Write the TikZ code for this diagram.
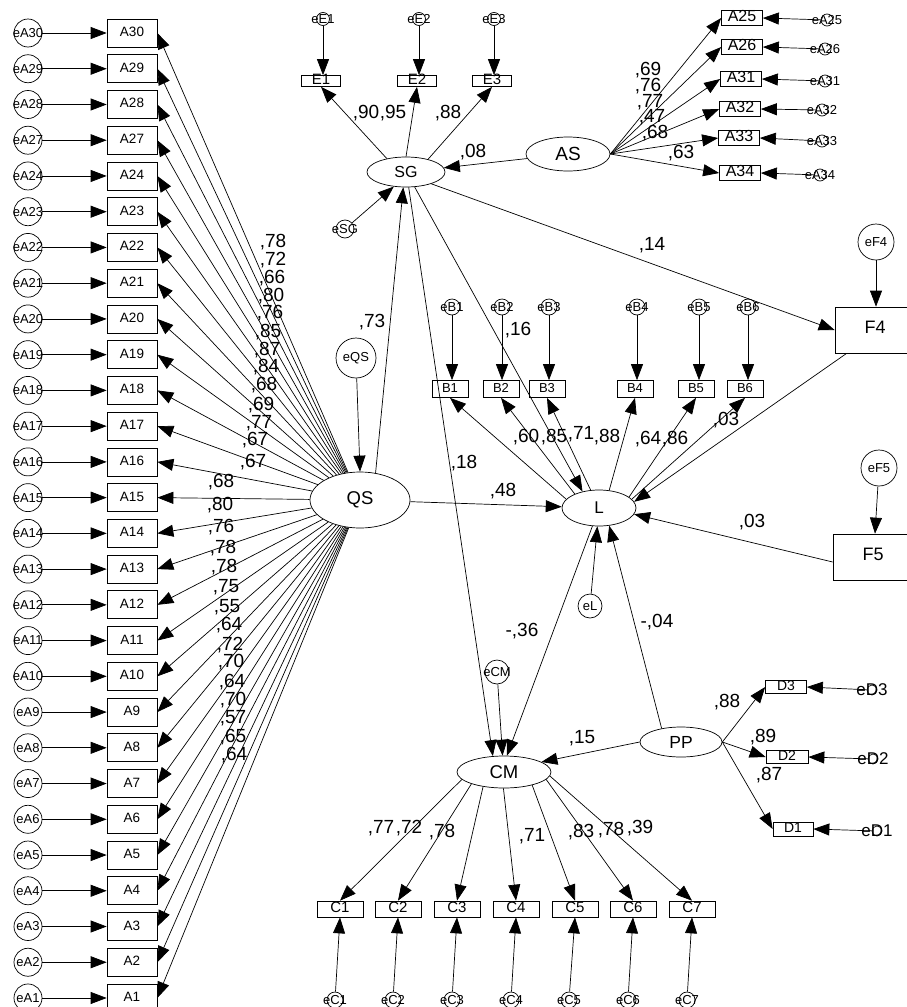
\documentclass[tikz,border=0pt]{standalone}
\usepackage{fontspec}
\setmainfont{Liberation Sans}
\usetikzlibrary{arrows.meta, shapes.geometric}

\begin{document}
\begin{tikzpicture}[
    x=1pt, y=-1pt,
    line width=0.7pt,
    arr/.style={-{Triangle[length=16pt, width=12pt]}},
    lat/.style={ellipse, draw, inner sep=0pt},
    obs/.style={rectangle, draw, inner sep=0pt, text height=0.7em, text depth=0pt},
    err/.style={circle, draw, inner sep=0pt, minimum size=#1},
    coef/.style={font=\fontsize{19}{19}\selectfont, inner sep=0pt},
    every label/.style={font=\fontsize{13}{13}\selectfont, inner sep=0pt},
]
\useasboundingbox (0,0) rectangle (907,1007);

% latent variables
\node[lat, minimum width=100pt, minimum height=56pt, font=\fontsize{18.5}{18.5}\selectfont] (QS) at (360,500) {QS};
\node[lat, minimum width=78pt, minimum height=30pt, font=\fontsize{16}{16}\selectfont] (SG) at (406,172) {SG};
\node[lat, minimum width=84pt, minimum height=34pt, font=\fontsize{19}{19}\selectfont] (AS) at (568,154) {AS};
\node[lat, minimum width=74pt, minimum height=36pt, font=\fontsize{17}{17}\selectfont] (L) at (599,508) {L};
\node[lat, minimum width=94pt, minimum height=32pt, font=\fontsize{18.5}{18.5}\selectfont] (CM) at (504,772) {CM};
\node[lat, minimum width=82pt, minimum height=30pt, font=\fontsize{17.5}{17.5}\selectfont] (PP) at (681,742) {PP};

% QS indicators (left column)
\foreach \n [count=\i from 0] in {30,29,28,27,24,23,22,21,20,19,18,17,16,15,14,13,12,11,10,9,8,7,6,5,4,3,2,1} {
  \node[obs, minimum width=50pt, minimum height=28pt, font=\fontsize{13.5}{13.5}\selectfont] (A\n) at (132, 33+35.74*\i) {A\n};
  \node[err=28pt, label={center:eA\n}] (eA\n) at (28, 33+35.74*\i) {};
  \draw[arr] (eA\n) -- (A\n);
  \draw[arr] (QS) -- (A\n.east);
}
\foreach \t/\x/\y [count=\i] in {78/273/242, 72/273/260, 66/272/278, 80/271/296, 76/270/313,
    85/268/332, 87/267/350, 84/266/367, 68/264/385, 69/261/405, 77/259/423, 67/255/440,
    67/253/462, 68/221/482, 80/220/505, 76/221/527, 78/223/548, 78/224/567, 75/226/587,
    55/227/607, 64/229/625, 72/230/645, 70/231/662, 64/232/682, 70/233/700, 57/233/718,
    65/233/737, 64/234/755}
  \node[coef] (lq\i) at (\x,\y) {,\t};

% SG indicators
\foreach \k/\x/\a in {1/321/145, 2/417/90, 3/492/30} {
  \node[obs, minimum width=39pt, minimum height=11pt, font=\fontsize{15}{15}\selectfont] (E\k) at (\x,81) {E\k};
  \node[err=13pt, label={center:eE\k}] (eE\k) at (\x+2,19) {};
  \draw[arr] (eE\k) -- (eE\k |- E\k.north);
  \draw[arr] (SG.\a) -- (E\k.south);
}
\node[coef] (le1) at (366,113) {,90};
\node[coef] (le2) at (393,113) {,95};
\node[coef] (le3) at (448,113) {,88};
\node[err=18pt, label={center:eSG}] (eSG) at (345,229) {};
\draw[arr] (eSG) -- (SG.230);

% AS indicators
\foreach \n/\x/\y/\ex/\ey in {25/742/18/827/20, 26/742/47/825/49, 31/741/79/825/81,
    32/740/109/822/110, 33/739/138/822/141, 34/740/173/820/175} {
  \node[obs, minimum width=41pt, minimum height=15pt, font=\fontsize{16}{16}\selectfont] (A\n) at (\x,\y) {A\n};
  \node[err=12pt, label={center:eA\n}] (eA\n) at (\ex,\ey) {};
  \draw[arr] (eA\n) -- (A\n.east);
  \draw[arr] (AS.east) -- (A\n.west);
}
\node[coef] (la1) at (648,70) {,69};
\node[coef] (la2) at (648,86) {,76};
\node[coef] (la3) at (650,102) {,77};
\node[coef] (la4) at (652,117) {,47};
\node[coef] (la5) at (655,133) {,68};
\node[coef] (la6) at (681,153) {,63};

% L indicators
\foreach \k/\x/\ex/\a in {1/450/452/165, 2/501/502/150, 3/547/549/115, 4/635/637/60, 5/696/699/20, 6/745/748/15} {
  \node[obs, minimum width=36pt, minimum height=17pt, font=\fontsize{13}{13}\selectfont] (B\k) at (\x,389) {B\k};
  \node[err=16pt, label={center:eB\k}] (eB\k) at (\ex,307) {};
  \draw[arr] (eB\k) -- (eB\k |- B\k.north);
  \draw[arr] (L.\a) -- (B\k.south);
}
\node[coef] (lb1) at (526,437) {,60};
\node[coef] (lb2) at (554,437) {,85};
\node[coef] (lb3) at (581,434) {,71};
\node[coef] (lb4) at (607,437) {,88};
\node[coef] (lb5) at (648,439) {,64};
\node[coef] (lb6) at (675,439) {,86};
\node[coef] (lb7) at (726,420) {,03};

% F4 and F5
\node[obs, minimum width=80pt, minimum height=46pt, font=\fontsize{18}{18}\selectfont] (F4) at (875,330) {F4};
\node[obs, minimum width=80pt, minimum height=46pt, font=\fontsize{18}{18}\selectfont] (F5) at (873,557) {F5};
\node[err=36pt, label={center:eF4}] (eF4) at (876,242) {};
\node[err=36pt, label={center:eF5}] (eF5) at (879,468) {};
\draw[arr] (eF4) -- (eF4 |- F4.north);
\draw[arr] (eF5) -- ([xshift=2pt]F5.north);

% CM indicators
\foreach \k/\x/\ex/\a in {1/340/335/190, 2/398/393/200, 3/457/452/215, 4/516/511/268, 5/575/569/335, 6/633/628/350, 7/692/687/355} {
  \node[obs, minimum width=46pt, minimum height=16pt, font=\fontsize{15}{15}\selectfont] (C\k) at (\x,909) {C\k};
  \node[err=16pt, label={center:eC\k}] (eC\k) at (\ex,1000) {};
  \draw[arr] (eC\k) -- (C\k.south);
  \draw[arr] (CM.\a) -- (C\k.north);
}
\node[coef] (lc1) at (381,828) {,77};
\node[coef] (lc2) at (409,828) {,72};
\node[coef] (lc3) at (442,832) {,78};
\node[coef] (lc4) at (532,836) {,71};
\node[coef] (lc5) at (581,832) {,83};
\node[coef] (lc6) at (611,830) {,78};
\node[coef] (lc7) at (640,828) {,39};

% PP indicators
\node[obs, minimum width=41pt, minimum height=13pt, font=\fontsize{14}{14}\selectfont] (D3) at (786,687) {D3};
\node[obs, minimum width=42pt, minimum height=13pt, font=\fontsize{14}{14}\selectfont] (D2) at (787,757) {D2};
\node[obs, minimum width=40pt, minimum height=14pt, font=\fontsize{14}{14}\selectfont] (D1) at (793,829) {D1};
\node[err=10pt, label={[font=\fontsize{17}{17}\selectfont]center:eD3}] (eD3) at (872,690) {};
\node[err=10pt, label={[font=\fontsize{17}{17}\selectfont]center:eD2}] (eD2) at (873,759) {};
\node[err=10pt, label={[font=\fontsize{17}{17}\selectfont]center:eD1}] (eD1) at (877,831) {};
\draw[arr] (eD3) -- (D3.east);
\draw[arr] (eD2) -- (D2.east);
\draw[arr] (eD1) -- (D1.east);
\draw[arr] (PP.east) -- (D3.west);
\draw[arr] (PP.east) -- (D2.west);
\draw[arr] (PP.east) -- (D1.west);
\node[coef] (ld3) at (727,702) {,88};
\node[coef] (ld2) at (763,737) {,89};
\node[coef] (ld1) at (769,775) {,87};

% structural paths
\node[err=40pt, label={center:eQS}] (eQS) at (356,358) {};
\node[err=24pt, label={center:eL}] (eL) at (590,606) {};
\node[err=24pt, label={center:eCM}] (eCM) at (497,672) {};
\draw[arr] (eQS) -- (QS.north);
\draw[arr] (QS.60) -- (SG.260);
\draw[arr] (AS) -- (SG);
\draw[arr] (QS) -- (L);
\draw[arr] (SG.-25) -- (F4.west);
\draw[arr] (SG.-60) -- (L.135);
\draw[arr] (SG.-80) -- (CM.125);
\draw[arr] ([xshift=12pt]F4.south west) -- (L.10);
\draw[arr] ([yshift=-5pt]F5.west) -- (L.350);
\draw[arr] (eL) -- (L.265);
\draw[arr] (PP.145) -- (L.300);
\draw[arr] (L.250) -- (CM.80);
\draw[arr] (eCM) -- (CM.95);
\draw[arr] (PP.west) -- (CM.15);

\node[coef] (ls1) at (372,322) {,73};
\node[coef] (ls2) at (473,152) {,08};
\node[coef] (ls3) at (652,245) {,14};
\node[coef] (ls4) at (518,330) {,16};
\node[coef] (ls5) at (464,463) {,18};
\node[coef] (ls6) at (503,491) {,48};
\node[coef] (ls7) at (752,522) {,03};
\node[coef] (ls8) at (522,631) {-,36};
\node[coef] (ls9) at (657,622) {-,04};
\node[coef] (ls10) at (582,738) {,15};
\end{tikzpicture}
\end{document}
